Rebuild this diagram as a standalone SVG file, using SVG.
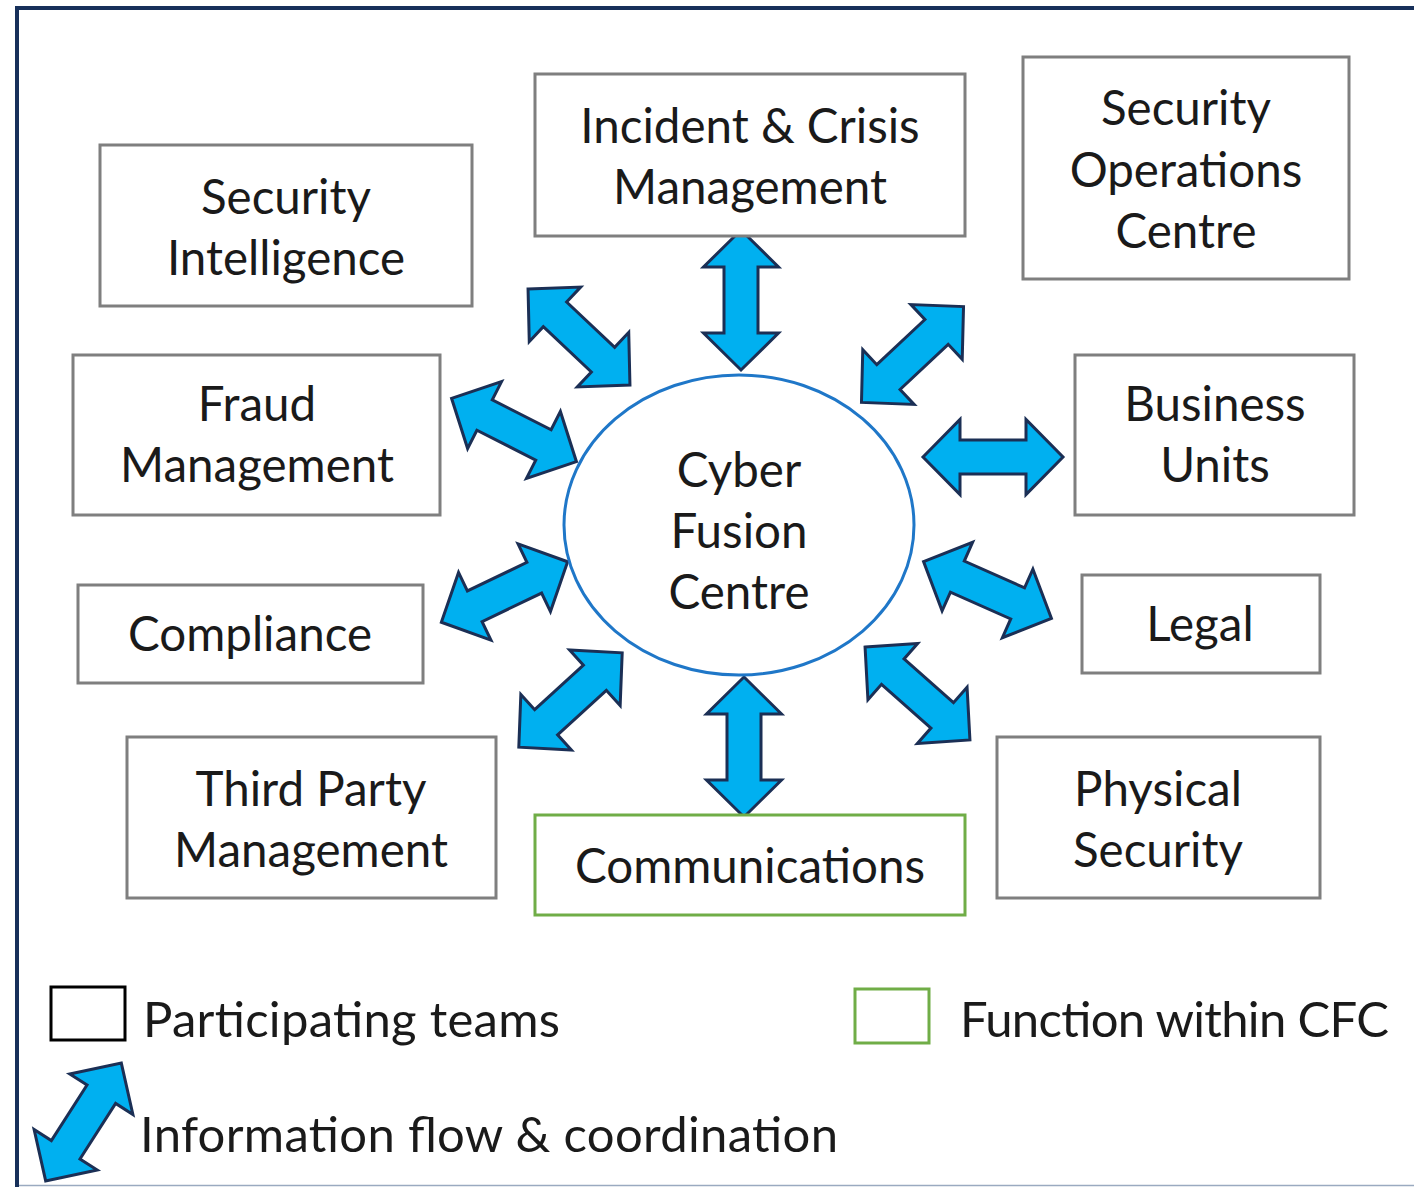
<svg xmlns="http://www.w3.org/2000/svg" width="1414" height="1187" viewBox="0 0 1414 1187">
<style>
.box{fill:#fff;stroke:#7f7f7f;stroke-width:3}
.grn{fill:#fff;stroke:#70ad47;stroke-width:3}
.t{font-family:Lato,"Open Sans",sans-serif;font-size:47.5px;fill:#1a1a1a;text-anchor:middle}
.lg{font-family:Lato,"Open Sans",sans-serif;font-size:49px;fill:#1a1a1a}
.arr{fill:#00b0f0;stroke:#1b2f55;stroke-width:3;stroke-linejoin:miter}
</style>
<defs>
<path id="da" d="M-70,0 L-33,-37.5 L-33,-17 L33,-17 L33,-37.5 L70,0 L33,37.5 L33,17 L-33,17 L-33,37.5 Z"/>
</defs>
<rect x="0" y="0" width="1414" height="1187" fill="#fff"/>
<g id="frame">
<line x1="15" y1="8" x2="1414" y2="8" stroke="#17305a" stroke-width="4"/>
<line x1="17" y1="6" x2="17" y2="1187" stroke="#17305a" stroke-width="4"/>
<line x1="19" y1="1185.5" x2="1414" y2="1185.5" stroke="#9aaac0" stroke-width="1.5"/>
</g>
<g id="connectors">
<use href="#da" class="arr" transform="translate(741,300) rotate(90)"/>
<use href="#da" class="arr" transform="translate(744,747) rotate(90)"/>
<use href="#da" class="arr" transform="translate(993,457)"/>
<use href="#da" class="arr" transform="translate(579,337) rotate(43.3)"/>
<use href="#da" class="arr" transform="translate(912.5,354.5) rotate(-43.2)"/>
<use href="#da" class="arr" transform="translate(514,430) rotate(26.9)"/>
<use href="#da" class="arr" transform="translate(504.5,592) rotate(-25.6)"/>
<use href="#da" class="arr" transform="translate(987.5,590) rotate(24)"/>
<use href="#da" class="arr" transform="translate(570.5,700) rotate(-42.4)"/>
<use href="#da" class="arr" transform="translate(917.5,693.5) rotate(41.5)"/>
</g>
<g id="cfc">
<ellipse cx="739" cy="525" rx="175" ry="150" fill="#fff" stroke="#1f77c8" stroke-width="3"/>
<text class="t" x="739" y="487">Cyber</text>
<text class="t" x="739" y="548">Fusion</text>
<text class="t" x="739" y="609">Centre</text>
</g>
<g id="security-intelligence">
<rect class="box" x="100" y="145" width="372" height="161"/>
<text class="t" x="286" y="214">Security</text>
<text class="t" x="286" y="275">Intelligence</text>
</g>
<g id="incident-crisis">
<rect class="box" x="535" y="74" width="430" height="162"/>
<text class="t" x="750" y="143">Incident &amp; Crisis</text>
<text class="t" x="750" y="204">Management</text>
</g>
<g id="soc">
<rect class="box" x="1023" y="57" width="326" height="222"/>
<text class="t" x="1186" y="125">Security</text>
<text class="t" x="1186" y="187">Operations</text>
<text class="t" x="1186" y="248">Centre</text>
</g>
<g id="fraud">
<rect class="box" x="73" y="355" width="367" height="160"/>
<text class="t" x="257" y="421">Fraud</text>
<text class="t" x="257" y="482">Management</text>
</g>
<g id="business-units">
<rect class="box" x="1075" y="355" width="279" height="160"/>
<text class="t" x="1215" y="421">Business</text>
<text class="t" x="1215" y="482">Units</text>
</g>
<g id="compliance">
<rect class="box" x="78" y="585" width="345" height="98"/>
<text class="t" x="250" y="651">Compliance</text>
</g>
<g id="legal">
<rect class="box" x="1082" y="575" width="238" height="98"/>
<text class="t" x="1200" y="641">Legal</text>
</g>
<g id="third-party">
<rect class="box" x="127" y="737" width="369" height="161"/>
<text class="t" x="311" y="806">Third Party</text>
<text class="t" x="311" y="867">Management</text>
</g>
<g id="communications">
<rect class="grn" x="535" y="815" width="430" height="100"/>
<text class="t" x="750" y="883">Communications</text>
</g>
<g id="physical-security">
<rect class="box" x="997" y="737" width="323" height="161"/>
<text class="t" x="1158" y="806">Physical</text>
<text class="t" x="1158" y="867">Security</text>
</g>
<g id="legend">
<rect x="51" y="987" width="74" height="53" fill="#fff" stroke="#000" stroke-width="3"/>
<text class="lg" x="143" y="1037" textLength="417">Participating teams</text>
<rect x="855" y="989" width="74" height="54" fill="#fff" stroke="#70ad47" stroke-width="3"/>
<text class="lg" x="960" y="1037" textLength="429">Function within CFC</text>
<use href="#da" class="arr" transform="translate(83.5,1122) rotate(-57.3)"/>
<text class="lg" x="140" y="1152" textLength="698">Information flow &amp; coordination</text>
</g>
</svg>
